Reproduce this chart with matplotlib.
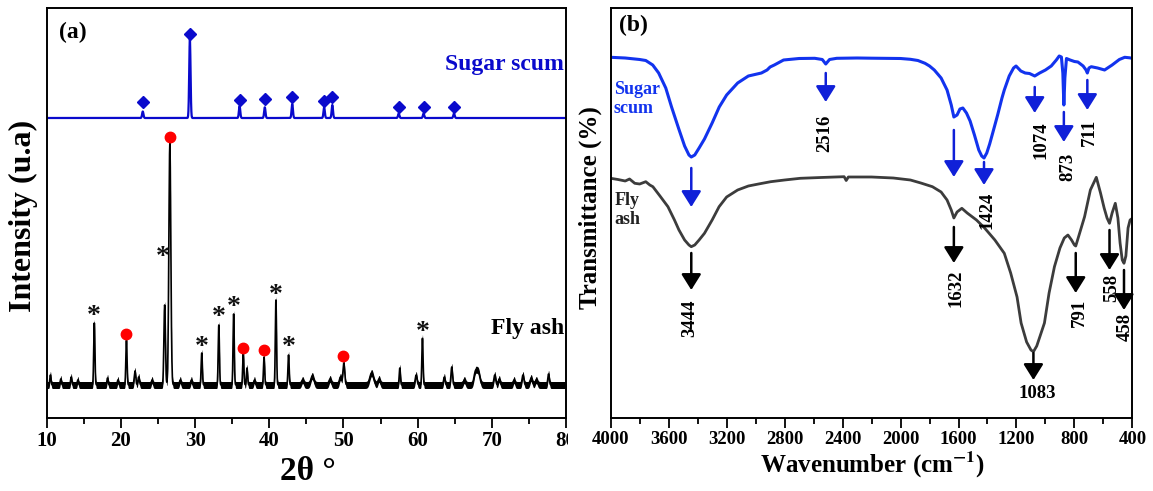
import numpy as np
import matplotlib
matplotlib.use('Agg')
import matplotlib.pyplot as plt
from matplotlib.ticker import MultipleLocator
from matplotlib.transforms import Bbox, TransformedBbox

plt.rcParams['font.family'] = ['Liberation Serif', 'DejaVu Serif']
plt.rcParams['font.weight'] = 'bold'
plt.rcParams['mathtext.fontset'] = 'stix'

# ---------------- XRD data (panel a) ----------------
sugar_base = 300.0
sugar_peak_pos = [22.95, 29.3, 36.0, 39.4, 43.1, 47.4, 48.5, 57.45, 60.8, 64.9]
sugar_peak_h = [6.5, 79, 12, 10.7, 14, 10.7, 13, 4.5, 4.5, 4.5]

fly_base = 33.0
fly_peak_pos = [10.5, 11.9, 13.3, 14.2, 16.42, 18.2, 19.6, 20.75, 21.9, 22.4, 24.2,
                25.9, 26.6, 28.0, 29.5, 30.9, 33.2, 35.2, 36.5, 37.0, 38.0, 39.3,
                40.9, 42.6, 44.5, 45.8, 48.2, 49.6, 50.05, 53.8, 54.8, 57.6, 59.8,
                60.65, 63.6, 64.6, 66.3, 67.8, 68.2, 70.4, 71.0, 73.0, 74.2, 75.3,
                76.0, 77.65]
fly_peak_h = [10, 6, 8, 5, 62, 7, 5, 45, 14, 8, 5,
              80, 242, 5, 5, 32, 60, 71, 31, 17, 5, 28,
              85, 30, 5, 9, 6, 8, 22, 12, 6, 17, 10,
              47, 8, 18, 5, 13, 12, 10, 6, 5, 10, 7,
              5, 11]
fly_peak_w = [0.08, 0.08, 0.08, 0.08, 0.08, 0.08, 0.08, 0.08, 0.1, 0.1, 0.1,
              0.1, 0.13, 0.1, 0.1, 0.08, 0.08, 0.08, 0.08, 0.08, 0.1, 0.08,
              0.08, 0.08, 0.15, 0.2, 0.15, 0.15, 0.12, 0.25, 0.15, 0.08, 0.12,
              0.08, 0.1, 0.1, 0.15, 0.2, 0.2, 0.12, 0.12, 0.12, 0.12, 0.15,
              0.15, 0.1]

diamond_x = [22.95, 29.3, 36.0, 39.4, 43.1, 47.4, 48.5, 57.45, 60.8, 64.9]
diamond_y = [316.3, 384, 318, 319, 321.3, 317.3, 321.3, 311.3, 310.7, 311.3]
star_x = [16.4, 25.7, 30.9, 33.2, 35.2, 40.9, 42.6, 60.65]
star_y = [101.3, 161, 71, 100, 110, 123, 70, 85.3]
dot_x = [20.75, 26.6, 36.5, 39.3, 50.0]
dot_y = [84, 281.3, 70.3, 68, 62]

xrd_ticks = [10, 20, 30, 40, 50, 60, 70, 80]

# ---------------- FTIR data (panel b) ----------------
sugar_wn = [4000, 3900, 3800, 3758, 3710, 3669, 3620, 3580, 3530, 3490, 3460, 3444,
            3420, 3390, 3353, 3300, 3251, 3200, 3124, 3050, 2960, 2921, 2900, 2871,
            2807, 2700, 2592, 2540, 2516, 2490, 2440, 2300, 2200, 2000, 1932, 1880,
            1831, 1800, 1767, 1720, 1679, 1650, 1632, 1610, 1590, 1570, 1545, 1520,
            1490, 1460, 1440, 1424, 1405, 1385, 1364, 1330, 1300, 1284, 1250, 1220,
            1203, 1170, 1140, 1110, 1074, 1040, 1000, 960, 925, 905, 890, 880, 873,
            866, 855, 830, 800, 776, 740, 720, 711, 700, 684, 640, 592, 540, 490,
            453, 420, 400]
sugar_t = [360.7, 360, 358.5, 357.5, 353, 345, 330, 311, 289, 272, 263, 261,
           263, 270, 279, 295, 311, 323, 335, 342, 345, 348, 351, 353,
           358, 359.5, 359.7, 358.5, 354, 358.5, 359.7, 360, 359.8, 359.5, 358.7, 357.5,
           354.7, 352, 348, 340, 328, 313, 301, 303, 309, 310, 305, 297,
           283, 268, 262, 260, 265, 274, 285, 303, 320, 328, 342, 350,
           352, 347, 345, 344.5, 342, 345, 348, 352, 358, 362, 361, 345, 313,
           340, 359.5, 358, 356.5, 356, 352, 348, 345, 350, 351.3, 350, 348, 353, 358.5,
           360.7, 360.2, 359.7]

fly_wn = [4000, 3950, 3900, 3870, 3834, 3800, 3758, 3730, 3709, 3660, 3605, 3560,
          3529, 3490, 3460, 3444, 3420, 3390, 3353, 3300, 3252, 3200, 3124, 3050,
          2980, 2896, 2800, 2692, 2550, 2389, 2375, 2360, 2200, 2050, 1932, 1860,
          1780, 1720, 1679, 1650, 1632, 1610, 1577, 1540, 1476, 1420, 1349, 1284,
          1240, 1196, 1168, 1130, 1100, 1083, 1060, 1030, 1007, 975, 938, 900,
          870, 845, 820, 800, 791, 770, 730, 690, 649, 620, 595, 575, 558, 540,
          518, 500, 485, 470, 458, 445, 430, 416, 400]
fly_t = [239.7, 238.5, 237, 239, 234.7, 234, 236.3, 233, 231.3, 222, 211.3, 198,
         188, 178, 173, 171.3, 173, 178, 184.7, 198, 211.3, 221, 228, 232,
         234, 236.3, 238, 239.7, 240.5, 241.3, 237.5, 241, 241, 240, 238, 235,
         231.3, 226, 218, 208, 200, 206, 209.7, 205, 198, 190, 178, 164.7,
         145, 121, 95, 76, 68, 66.3, 72, 85, 95, 125, 151.3, 170,
         180, 183, 178, 173, 172, 182, 201.3, 228, 240.7, 225, 210, 200, 194.7, 205,
         214.7, 200, 175, 158, 154.7, 162, 190, 198, 199.7]

# arrows: (wavenumber, start, end)
blue_arrow_wn = [3444, 2516, 1632, 1424, 1074, 873, 711]
blue_arrow_y0 = [250, 345, 288, 256, 331, 306, 338]
blue_arrow_y1 = [211, 316, 241, 233, 305, 276, 308]
black_arrow_wn = [3444, 1632, 1083, 791, 558, 458]
black_arrow_y0 = [165, 191, 65, 165, 188, 148]
black_arrow_y1 = [128, 155, 38, 125, 148, 108]

# band labels
band_labels = ['2516', '1424', '1074', '873', '711', '3444', '1632', '791', '558', '458']
band_label_wn = [2520, 1400, 1030, 845, 695, 3452, 1618, 765, 545, 448]
band_label_y = [285, 208, 278, 251, 286, 100, 130, 105, 130, 91]
main_label = '1083'
main_label_wn = 1058
main_label_y = 25

ftir_ticks = [4000, 3600, 3200, 2800, 2400, 2000, 1600, 1200, 800, 400]

# ---------------- figure ----------------
W, H = 1153, 491
fig = plt.figure(figsize=(W / 100, H / 100), dpi=100)

def fx(px):
    return px / W

def fy(py):
    return 1 - py / H

axA = fig.add_axes([fx(46.7), fy(418), fx(566) - fx(46.7), fy(7.5) - fy(418)])
axB = fig.add_axes([fx(610.7), fy(418), fx(1132.4) - fx(610.7), fy(7.5) - fy(418)])

XRD_BLUE = '#0a0acc'
FT_BLUE = '#1233ee'
ARROW_BLUE = '#1020d8'

# panel a curves
x = np.linspace(10, 80, 3501)
sugar = np.full_like(x, sugar_base)
for p, h in zip(sugar_peak_pos, sugar_peak_h):
    sugar += h * np.exp(-0.5 * ((x - p) / 0.09) ** 2)
fly = np.full_like(x, fly_base)
for p, h, w in zip(fly_peak_pos, fly_peak_h, fly_peak_w):
    fly += h * np.exp(-0.5 * ((x - p) / w) ** 2)

axA.fill_between(x, fly - 3.5, fly + 3.5, color='black', lw=0)
axA.plot(x, fly, color='black', lw=1.2)
axA.plot(x, sugar, color=XRD_BLUE, lw=1.6)
axA.plot(diamond_x, diamond_y, ls='none', marker='D', ms=6.2, color=XRD_BLUE)
axA.plot(dot_x, dot_y, ls='none', marker='o', ms=7.5, color='#ff0000')
for sx, sy in zip(star_x, star_y):
    axA.text(sx, sy, '*', ha='center', va='center', fontsize=20,
             fontweight='bold', color='#111111')

axA.set_xlim(10, 80)
axA.set_ylim(0, 410.5)
axA.set_yticks([])
axA.set_xticks(xrd_ticks)
axA.set_xticklabels([str(t) for t in xrd_ticks])
axA.xaxis.set_minor_locator(MultipleLocator(5))
axA.tick_params(axis='x', which='major', direction='out', length=7, width=1.3,
                labelsize=15, pad=2)
axA.tick_params(axis='x', which='minor', direction='out', length=4, width=1.3)
for s in axA.spines.values():
    s.set_linewidth(1.4)

axA.text(0.024, 0.94, '(a)', transform=axA.transAxes, ha='left', va='center',
         fontsize=17, fontweight='bold')
axA.text(0.996, 0.862, 'Sugar scum', transform=axA.transAxes, ha='right',
         va='center', fontsize=17, fontweight='bold', color=XRD_BLUE)
axA.text(0.996, 0.217, 'Fly ash', transform=axA.transAxes, ha='right',
         va='center', fontsize=17, fontweight='bold', color='black')

# panel b curves
axB.plot(fly_wn, fly_t, color='#3c3c3c', lw=2.0, solid_joinstyle='round')
axB.plot(sugar_wn, sugar_t, color=FT_BLUE, lw=2.2, solid_joinstyle='round')

def arrow(ax, xv, y0, y1, color):
    ax.annotate('', xy=(xv, y1), xytext=(xv, y0),
                arrowprops=dict(arrowstyle='-|>,head_length=0.8,head_width=0.5',
                                lw=1.8, color=color, shrinkA=0, shrinkB=0,
                                mutation_scale=12))

for wv, a, b in zip(blue_arrow_wn, blue_arrow_y0, blue_arrow_y1):
    arrow(axB, wv, a, b, ARROW_BLUE)
for wv, a, b in zip(black_arrow_wn, black_arrow_y0, black_arrow_y1):
    arrow(axB, wv, a, b, 'black')

for lab, wv, yv in zip(band_labels, band_label_wn, band_label_y):
    axB.text(wv, yv, lab, rotation=90, ha='center', va='center', fontsize=13.5,
             fontweight='bold')
axB.text(main_label_wn, main_label_y, main_label, ha='center', va='center',
         fontsize=13.5, fontweight='bold')

axB.set_xlim(4000, 400)
axB.set_ylim(0, 410.5)
axB.set_yticks([])
axB.set_xticks(ftir_ticks)
axB.set_xticklabels([str(t) for t in ftir_ticks])
axB.xaxis.set_minor_locator(MultipleLocator(200))
axB.tick_params(axis='x', which='major', direction='out', length=7, width=1.3,
                labelsize=13.5, pad=2)
axB.tick_params(axis='x', which='minor', direction='out', length=4, width=1.3)
for s in axB.spines.values():
    s.set_linewidth(1.4)

axB.text(0.016, 0.957, '(b)', transform=axB.transAxes, ha='left', va='center',
         fontsize=17, fontweight='bold')
axB.text(0.006, 0.777, 'Sugar\nscum', transform=axB.transAxes, ha='left',
         va='center', fontsize=13, fontweight='bold', color=FT_BLUE,
         linespacing=1.15)
axB.text(0.008, 0.507, 'Fly\nash', transform=axB.transAxes, ha='left',
         va='center', fontsize=13, fontweight='bold', color='#222222',
         linespacing=1.15)

# axis titles
fig.text(fx(23), fy(216), 'Intensity (u.a)', rotation=90, ha='center',
         va='center', fontsize=23, fontweight='bold')
fig.text(fx(308), fy(471), '2θ °', ha='center', va='center', fontsize=24,
         fontweight='bold')
fig.text(fx(590), fy(208), 'Transmittance (%)', rotation=90, ha='center',
         va='center', fontsize=18, fontweight='bold')
fig.text(fx(873), fy(465), r'Wavenumber (cm$^{\mathbf{-1}}$)', ha='center',
         va='center', fontsize=18, fontweight='bold')

# clip the last tick label of panel a at the panel edge, as in the original
fig.canvas.draw()
clipbox = TransformedBbox(Bbox([[0, 0], [fx(568), 1]]), fig.transFigure)
for lab in axA.get_xticklabels():
    if lab.get_text() == '80':
        lab.set_clip_on(True)
        lab.set_clip_box(clipbox)

fig.savefig('out.png', dpi=100)
